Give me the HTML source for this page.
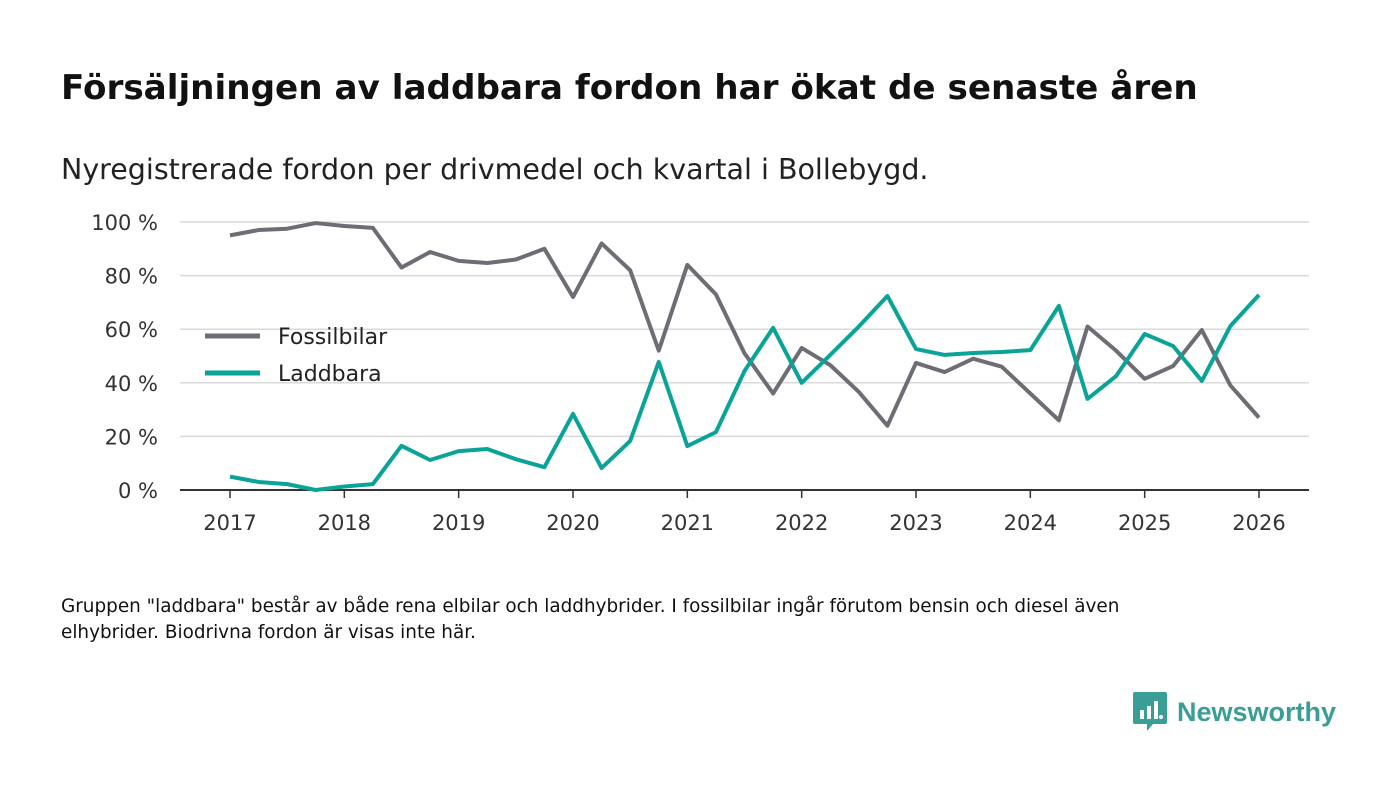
<!DOCTYPE html>
<html><head><meta charset="utf-8">
<style>
body{margin:0;width:1400px;height:793px;background:#fff;font-family:"DejaVu Sans","Liberation Sans",sans-serif;overflow:hidden;position:relative;color:#111}
#title{position:absolute;left:61px;top:68px;font-size:34.2px;font-weight:bold;font-family:"DejaVu Sans",sans-serif;color:#111;white-space:nowrap}
#sub{position:absolute;left:61px;top:153px;font-size:28.5px;font-family:"DejaVu Sans",sans-serif;color:#222;white-space:nowrap}
#note{position:absolute;left:61px;top:594px;font-size:18.4px;line-height:26px;font-family:"DejaVu Sans",sans-serif;color:#111;width:1100px}
#logo{position:absolute;left:1133px;top:692px;display:flex;align-items:center}
#logo span{font-family:"Liberation Sans",sans-serif;font-weight:bold;font-size:27px;color:#3a9d96;margin-left:10px}
svg text{font-family:"DejaVu Sans","Liberation Sans",sans-serif}
</style></head><body>
<div id="title">Försäljningen av laddbara fordon har ökat de senaste åren</div>
<div id="sub">Nyregistrerade fordon per drivmedel och kvartal i Bollebygd.</div>
<svg id="chart" width="1400" height="600" style="position:absolute;left:0;top:0"></svg>
<div id="note">Gruppen "laddbara" består av både rena elbilar och laddhybrider. I fossilbilar ingår förutom bensin och diesel även elhybrider. Biodrivna fordon är visas inte här.</div>
<div id="logo">
<svg width="34" height="40" viewBox="0 0 34 40"><path d="M2 0h30a2 2 0 0 1 2 2v28a2 2 0 0 1-2 2H20l-6 7v-7H2a2 2 0 0 1-2-2V2a2 2 0 0 1 2-2z" fill="#3a9d96"/><rect x="7" y="18" width="4" height="9" fill="#fff"/><rect x="14" y="14" width="4" height="13" fill="#fff"/><rect x="21" y="9" width="4" height="18" fill="#fff"/><circle cx="28" cy="25" r="2" fill="#fff"/></svg>
<span>Newsworthy</span></div>
<script>
const years=[2017,2018,2019,2020,2021,2022,2023,2024,2025,2026];
const yTicks=[0,20,40,60,80,100];
const fossil=[95,97,97.5,99.6,98.5,97.8,83,88.8,85.5,84.7,86,90,72,92,82,52,84,73,51,36,53,46.6,36.6,24,47.4,44,49,46,36,26,61,52,41.5,46.3,59.7,39,27];
const laddbara=[5,3,2.2,0,1.3,2.2,16.5,11.2,14.5,15.3,11.5,8.5,28.4,8.2,18.3,47.8,16.4,21.6,44.4,60.5,40,50.4,61,72.4,52.6,50.4,51.1,51.5,52.2,68.7,34,42.5,58.2,53.7,40.7,61.2,72.8];
const NS="http://www.w3.org/2000/svg";
const svg=document.getElementById('chart');
const x=t=>230+(t-2017)*(1029/9);
const y=v=>490-v*2.68;
function mk(tag,a){const e=document.createElementNS(NS,tag);for(const k in a)e.setAttribute(k,a[k]);svg.appendChild(e);return e;}
yTicks.forEach(v=>{
 const l=mk('line',{x1:180,x2:1309,y1:y(v),y2:y(v),stroke:v?'#d9d9d9':'#333','stroke-width':v?1.5:2});
 
 
 const t=mk('text',{x:158,y:y(v)+8,'text-anchor':'end','font-size':21,fill:'#333'});t.textContent=v+' %';
 
 
});
years.forEach(yr=>{
 const tk=mk('line',{x1:x(yr),x2:x(yr),y1:490,y2:498,stroke:'#333','stroke-width':1.5});
 
 
 const t=mk('text',{x:x(yr),y:530,'text-anchor':'middle','font-size':21,fill:'#333'});t.textContent=yr;
 
 
});
function line(d,c,n){
 const p=mk('polyline',{points:d.map((v,i)=>x(2017+i/4)+','+y(v)).join(' '),fill:'none',stroke:c,'stroke-width':4,'stroke-linejoin':'round'});
 
 
}
line(fossil,'#6e6d75','fossilbilar-line');
line(laddbara,'#0aa398','laddbara-line');
[['Fossilbilar','#6e6d75',336],['Laddbara','#0aa398',373]].forEach(([n,c,yy])=>{
 const l=mk('line',{x1:205,x2:260,y1:yy,y2:yy,stroke:c,'stroke-width':5});
 
 
 const t=mk('text',{x:278,y:yy+8,'font-size':22,fill:'#222'});t.textContent=n;
 
 
});
</script>
</body></html>
